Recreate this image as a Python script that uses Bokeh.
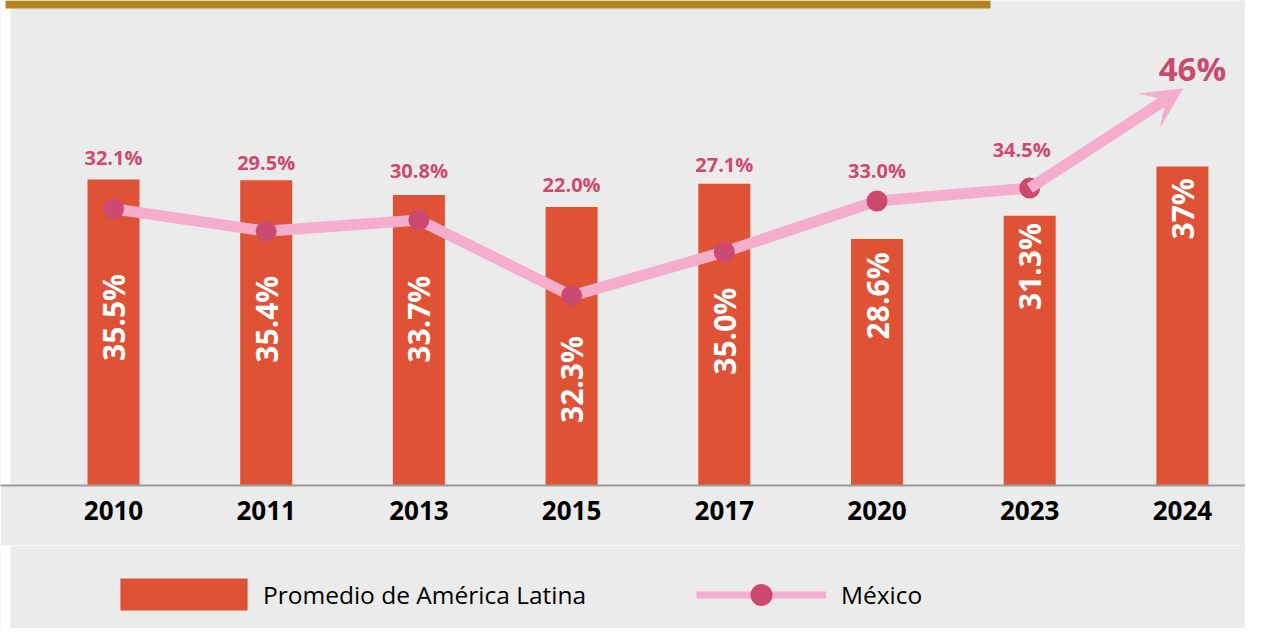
import math
from bokeh.plotting import figure
from bokeh.layouts import column
from bokeh.models import (ColumnDataSource, Range1d, FixedTicker, Arrow, VeeHead,
                          Legend, LegendItem)
from bokeh.core.properties import value
from bokeh.embed import file_html
from bokeh.resources import INLINE

# ---------------- data ----------------
years = ["2010", "2011", "2013", "2015", "2017", "2020", "2023", "2024"]
latam = [35.5, 35.4, 33.7, 32.3, 35.0, 28.6, 31.3, 37.0]
latam_labels = ["35.5%", "35.4%", "33.7%", "32.3%", "35.0%", "28.6%", "31.3%", "37%"]
mexico = [32.1, 29.5, 30.8, 22.0, 27.1, 33.0, 34.5]
mexico_labels = ["32.1%", "29.5%", "30.8%", "22.0%", "27.1%", "33.0%", "34.5%"]
mexico_2024 = 46.0
mexico_2024_label = "46%"
series_names = ["Promedio de América Latina", "México"]

# ---------------- styling / label placement ----------------
latam_label_y = [19.5, 19.3, 19.3, 12.3, 17.9, 22.0, 25.4, 32.1]
mexico_label_y = [38.05, 37.47, 36.54, 34.92, 37.24, 36.54, 38.98]
mexico_label_dx = [0, 0, 0, 0, 0, 0, -8]

BG = "#ebebeb"
BAR = "#e05236"
PINK = "#f4adca"
DOT = "#cc4a70"
GOLD = "#b0841f"
FONT = "Open Sans"

W = 1245
H_TOP = 545
H_BOT = 83
PX_X = 152.7
PX_Y = 8.62
FRAME_H = 485
x0 = -113 / PX_X
x_range = Range1d(x0, x0 + W / PX_X)
y_range = Range1d(0, FRAME_H / PX_Y)

def px_x(px):
    return x0 + px / PX_X

p = figure(width=W, height=H_TOP, x_range=x_range, y_range=y_range,
           output_backend="svg", toolbar_location=None,
           min_border_left=0, min_border_right=0, min_border_top=0,
           min_border_bottom=H_TOP - FRAME_H)
p.background_fill_color = BG
p.border_fill_color = BG
p.outline_line_color = None
p.grid.visible = False
p.yaxis.visible = False

xs = list(range(len(years)))

# white strip at left and gold band at top
p.quad(left=[px_x(0)], right=[px_x(10)], top=[y_range.end], bottom=[0],
       color="white", line_color=None)
band_h = 8 / PX_Y
p.quad(left=[px_x(5)], right=[px_x(990)], top=[y_range.end],
       bottom=[y_range.end - band_h], color=GOLD, line_color=None)

# bars
bar_src = ColumnDataSource(dict(x=xs, top=latam, lab=latam_labels, ly=latam_label_y))
p.vbar(x="x", top="top", bottom=0, width=52 / PX_X, source=bar_src,
       fill_color=BAR, line_color=None)
p.text(x="x", y="ly", text="lab", source=bar_src, angle=math.pi / 2,
       text_align="center", text_baseline="middle", text_color="white",
       text_font=value(FONT), text_font_style="bold", text_font_size="30px")

# Mexico line
mx_x = xs[:len(mexico)]
mx_src = ColumnDataSource(dict(x=mx_x, y=mexico, lab=mexico_labels,
                               ly=mexico_label_y, dx=mexico_label_dx))
p.line(x="x", y="y", source=mx_src, line_color=PINK, line_width=11,
       line_join="round", line_cap="round")
arrow = Arrow(x_start=mx_x[-1], y_start=mexico[-1], x_end=xs[-1], y_end=mexico_2024,
              line_color=PINK, line_width=11,
              end=VeeHead(size=38, fill_color=PINK, line_color=PINK, line_width=1))
p.add_layout(arrow)
p.scatter(x="x", y="y", source=mx_src, size=21, fill_color=DOT, line_color=None)
p.text(x="x", y="ly", text="lab", x_offset="dx", source=mx_src,
       text_align="center", text_baseline="middle", text_color=DOT,
       text_font=value(FONT), text_font_style="bold", text_font_size="20px")
p.text(x=[xs[-1] + 10 / PX_X], y=[48.4], text=[mexico_2024_label],
       text_align="center", text_baseline="middle", text_color=DOT,
       text_font=value(FONT), text_font_style="bold", text_font_size="33px")

# x axis
ax = p.xaxis[0]
ax.ticker = FixedTicker(ticks=xs)
ax.major_label_overrides = {i: y for i, y in enumerate(years)}
ax.axis_line_color = "#9a9a9a"
ax.axis_line_width = 2
ax.major_tick_line_color = None
ax.minor_tick_line_color = None
ax.major_label_text_font = FONT
ax.major_label_text_font_style = "bold"
ax.major_label_text_font_size = "26px"
ax.major_label_text_color = "black"
ax.major_label_standoff = 9

# ---------------- legend strip (second figure) ----------------
q = figure(width=W, height=H_BOT, x_range=Range1d(0, W), y_range=Range1d(0, H_BOT),
           output_backend="svg", toolbar_location=None,
           x_axis_location=None, y_axis_location=None,
           min_border_left=0, min_border_right=0, min_border_top=0, min_border_bottom=0)
q.background_fill_color = BG
q.border_fill_color = BG
q.outline_line_color = None
q.grid.visible = False
q.quad(left=[0], right=[10], top=[H_BOT], bottom=[0], color="white", line_color=None)

# legend proxies: one point each, placed outside the visible range
leg_bar = q.vbar(x=[-5000], top=[1], width=1, fill_color=BAR, line_color=None)
leg_line = q.line(x=[-5000, -4990], y=[1, 1], line_color=PINK, line_width=7)
leg_dot = q.scatter(x=[-5000], y=[1], size=22, fill_color=DOT, line_color=None)

common = dict(orientation="horizontal", padding=0, margin=0, border_line_color=None,
              background_fill_alpha=0, label_text_font=FONT,
              label_text_font_size="24.5px", label_text_color="black")
legend1 = Legend(items=[LegendItem(label=series_names[0], renderers=[leg_bar])],
                 location=(104, 14), glyph_width=159, glyph_height=40,
                 label_standoff=0, label_height=40, **common)
legend2 = Legend(items=[LegendItem(label=series_names[1], renderers=[leg_line, leg_dot])],
                 location=(696, 6), glyph_width=130, glyph_height=55,
                 label_standoff=15, label_height=55, **common)
q.add_layout(legend1)
q.add_layout(legend2)

layout = column(p, q, spacing=0)
open("out.html", "w").write(file_html(layout, INLINE))
